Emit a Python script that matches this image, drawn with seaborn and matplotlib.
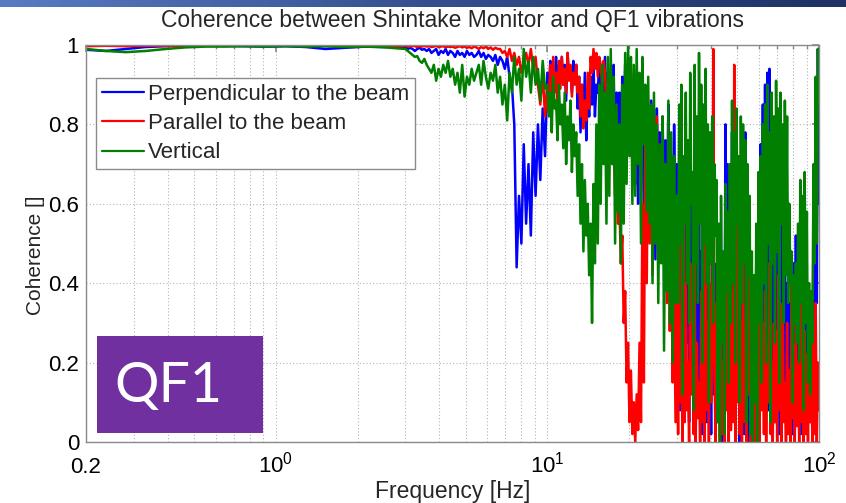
import numpy as np
import pandas as pd
import matplotlib
matplotlib.use("Agg")
import matplotlib.pyplot as plt
import seaborn as sns
from matplotlib.lines import Line2D
from matplotlib.patches import Rectangle
from matplotlib.colors import LinearSegmentedColormap
from matplotlib.ticker import FixedLocator, LogLocator, NullFormatter

# ---------------------------------------------------------------------------
# Data: coherence estimates on four analysis bands (log-spaced bins)
# ---------------------------------------------------------------------------
bands = [(0.2, 3.0, 16), (3.0, 10.0, 60), (10.0, 30.0, 90), (30.0, 100.0, 130)]

series_names = ["Perpendicular to the beam", "Parallel to the beam", "Vertical"]
series_colors = ["#0000ff", "#ff0000", "#007f00"]

# Perpendicular to the beam
perp_low = [0.988, 0.985, 0.99, 0.995, 0.997, 0.998, 0.998, 0.998, 0.997, 0.996,
            0.997, 0.995, 0.99, 0.993, 0.996, 0.995]
perp_mid = [0.995, 0.99, 0.993, 0.99, 0.985, 0.99, 0.993, 0.988, 0.99, 0.985,
            0.99, 0.98, 0.985, 0.99, 0.975, 0.985, 0.98, 0.99, 0.975, 0.985,
            0.98, 0.97, 0.985, 0.975, 0.98, 0.97, 0.985, 0.975, 0.98, 0.97,
            0.975, 0.985, 0.97, 0.98, 0.965, 0.975, 0.97, 0.96, 0.975, 0.95,
            0.97, 0.96, 0.94, 0.97, 0.92, 0.90, 0.80, 0.44, 0.62, 0.50,
            0.75, 0.55, 0.70, 0.52, 0.78, 0.62, 0.80, 0.66, 0.84, 0.72]
perp_high = [0.93, 0.88, 0.96, 0.85, 0.94, 0.90, 0.97, 0.87, 0.95, 0.91,
             0.97, 0.90, 0.95, 0.86, 0.98, 0.92, 0.94, 0.88, 0.96, 0.91,
             0.95, 0.84, 0.92, 0.78, 0.90, 0.80, 0.93, 0.76, 0.88, 0.82,
             0.92, 0.85, 0.95, 0.82, 0.90, 0.88, 0.96, 0.80, 0.93, 0.86,
             0.97, 0.84, 0.93, 0.75, 0.90, 0.80, 0.95, 0.70, 0.88, 0.78,
             0.88, 0.72, 0.92, 0.80, 0.95, 0.85, 0.90, 0.78, 0.93, 0.70,
             0.85, 0.65, 0.80, 0.60, 0.88, 0.70, 0.82, 0.58, 0.78, 0.66,
             0.80, 0.62, 0.86, 0.70, 0.75, 0.46, 0.84, 0.66, 0.78, 0.60,
             0.82, 0.58, 0.76, 0.50, 0.85, 0.62, 0.72, 0.45, 0.80, 0.55]
perp_top = [0.70, 0.20, 0.55, 0.08, 0.75, 0.30, 0.60, 0.12, 0.68, 0.25,
            0.50, 0.05, 0.72, 0.18, 0.62, 0.10, 0.58, 0.22, 0.45, 0.08,
            0.65, 0.15, 0.48, 0.02, 0.60, 0.20, 0.52, 0.05, 0.40, 0.10,
            0.35, 0.02, 0.55, 0.12, 0.45, 0.00, 0.38, 0.08, 0.30, 0.05,
            0.25, 0.00, 0.42, 0.05, 0.80, 0.15, 0.70, 0.02, 0.60, 0.10,
            0.78, 0.20, 0.65, 0.05, 0.80, 0.12, 0.55, 0.00, 0.62, 0.18,
            0.58, 0.02, 0.78, 0.15, 0.50, 0.00, 0.40, 0.05, 0.35, 0.02,
            0.30, 0.00, 0.45, 0.10, 0.60, 0.05, 0.75, 0.12, 0.85, 0.20,
            0.90, 0.15, 0.93, 0.08, 0.94, 0.25, 0.82, 0.10, 0.70, 0.05,
            0.75, 0.18, 0.65, 0.02, 0.70, 0.20, 0.55, 0.08, 0.50, 0.12,
            0.40, 0.05, 0.35, 0.15, 0.38, 0.02, 0.45, 0.10, 0.52, 0.08,
            0.48, 0.10, 0.55, 0.02, 0.42, 0.15, 0.50, 0.05, 0.38, 0.12,
            0.30, 0.05, 0.28, 0.10, 0.55, 0.20, 0.85, 0.35, 0.99, 0.60]

# Parallel to the beam
para_low = [0.997, 0.998, 0.997, 0.998, 0.998, 0.999, 0.998, 0.999, 0.998, 0.998,
            0.999, 0.998, 0.998, 0.997, 0.998, 0.996]
para_mid = [0.998, 0.997, 0.996, 0.998, 0.997, 0.995, 0.997, 0.996, 0.998, 0.996,
            0.997, 0.995, 0.996, 0.998, 0.995, 0.996, 0.997, 0.994, 0.996, 0.995,
            0.996, 0.993, 0.995, 0.997, 0.994, 0.996, 0.993, 0.995, 0.992, 0.996,
            0.994, 0.99, 0.995, 0.992, 0.996, 0.99, 0.994, 0.988, 0.993, 0.99,
            0.99, 0.98, 0.985, 0.97, 0.99, 0.96, 0.98, 0.95, 0.97, 0.93,
            0.96, 0.98, 0.95, 0.99, 0.94, 0.97, 0.90, 0.85, 0.93, 0.82]
para_high = [0.90, 0.83, 0.95, 0.86, 0.97, 0.88, 0.93, 0.85, 0.96, 0.89,
             0.97, 0.90, 0.94, 0.88, 0.98, 0.91, 0.95, 0.87, 0.93, 0.90,
             0.95, 0.88, 0.92, 0.82, 0.90, 0.79, 0.86, 0.81, 0.93, 0.84,
             0.97, 0.93, 0.99, 0.94, 0.98, 0.92, 0.97, 0.95, 0.90, 0.96,
             0.93, 0.85, 0.90, 0.78, 0.84, 0.70, 0.76, 0.62, 0.68, 0.55,
             0.60, 0.45, 0.52, 0.30, 0.38, 0.15, 0.25, 0.05, 0.18, 0.02,
             0.10, 0.00, 0.12, 0.03, 0.25, 0.05, 0.60, 0.15, 0.80, 0.40,
             0.85, 0.50, 0.78, 0.42, 0.70, 0.55, 0.82, 0.45, 0.65, 0.48,
             0.78, 0.45, 0.70, 0.35, 0.62, 0.28, 0.50, 0.15, 0.40, 0.05]
para_top = [0.35, 0.02, 0.55, 0.10, 0.28, 0.00, 0.65, 0.05, 0.40, 0.08,
            0.20, 0.00, 0.45, 0.12, 0.30, 0.02, 0.50, 0.00, 0.25, 0.06,
            0.15, 0.00, 0.38, 0.05, 0.22, 0.00, 0.60, 0.08, 0.30, 0.00,
            0.40, 0.10, 0.25, 0.99, 0.20, 0.00, 0.35, 0.05, 0.18, 0.00,
            0.30, 0.02, 0.20, 0.00, 0.42, 0.08, 0.15, 0.00, 0.35, 0.03,
            0.38, 0.05, 0.95, 0.00, 0.25, 0.10, 0.55, 0.02, 0.30, 0.00,
            0.60, 0.05, 0.28, 0.00, 0.45, 0.12, 0.20, 0.00, 0.35, 0.04,
            0.22, 0.00, 0.40, 0.06, 0.18, 0.00, 0.52, 0.08, 0.30, 0.02,
            0.38, 0.00, 0.25, 0.10, 0.45, 0.02, 0.20, 0.00, 0.30, 0.05,
            0.28, 0.00, 0.42, 0.08, 0.22, 0.00, 0.35, 0.05, 0.15, 0.00,
            0.30, 0.02, 0.18, 0.00, 0.40, 0.06, 0.25, 0.00, 0.32, 0.04,
            0.20, 0.00, 0.35, 0.05, 0.15, 0.00, 0.28, 0.02, 0.22, 0.00,
            0.30, 0.05, 0.18, 0.00, 0.25, 0.02, 0.35, 0.00, 0.20, 0.08]

# Vertical
vert_low = [0.99, 0.985, 0.982, 0.985, 0.99, 0.994, 0.996, 0.996, 0.997, 0.996,
            0.997, 0.996, 0.997, 0.995, 0.996, 0.994]
vert_mid = [0.99, 0.985, 0.98, 0.975, 0.97, 0.972, 0.96, 0.955, 0.965, 0.95,
            0.94, 0.93, 0.95, 0.91, 0.94, 0.92, 0.95, 0.93, 0.96, 0.92,
            0.94, 0.90, 0.93, 0.88, 0.95, 0.87, 0.92, 0.90, 0.94, 0.91,
            0.93, 0.95, 0.90, 0.96, 0.92, 0.89, 0.93, 0.91, 0.95, 0.88,
            0.92, 0.85, 0.90, 0.81, 0.93, 0.88, 0.97, 0.90, 0.94, 0.86,
            0.99, 0.92, 0.96, 0.88, 0.97, 0.90, 0.94, 0.86, 0.96, 0.89]
vert_high = [0.90, 0.82, 0.88, 0.78, 0.92, 0.84, 0.86, 0.76, 0.90, 0.80,
             0.85, 0.74, 0.88, 0.70, 0.82, 0.76, 0.86, 0.68, 0.80, 0.72,
             0.78, 0.62, 0.75, 0.55, 0.70, 0.48, 0.66, 0.52, 0.60, 0.42,
             0.55, 0.30, 0.65, 0.45, 0.80, 0.50, 0.90, 0.60, 0.95, 0.70,
             0.88, 0.55, 0.97, 0.62, 0.99, 0.70, 0.92, 0.50, 0.85, 0.58,
             0.80, 0.45, 0.90, 0.55, 0.98, 0.65, 1.00, 0.72, 0.97, 0.60,
             0.95, 0.62, 0.99, 0.70, 0.93, 0.50, 0.97, 0.75, 0.90, 0.58,
             0.92, 0.55, 0.85, 0.40, 0.88, 0.50, 0.80, 0.35, 0.75, 0.45,
             0.82, 0.23, 0.70, 0.38, 0.86, 0.30, 0.78, 0.20, 0.72, 0.35]
vert_top = [0.62, 0.35, 0.85, 0.50, 0.90, 0.12, 0.72, 0.55, 0.88, 0.40,
            0.76, 0.30, 0.93, 0.60, 0.68, 0.08, 0.95, 0.45, 0.82, 0.35,
            0.98, 0.55, 0.90, 0.20, 0.85, 0.50, 0.94, 0.40, 0.80, 0.10,
            0.78, 0.45, 0.82, 0.30, 0.70, 0.52, 0.66, 0.05, 0.55, 0.00,
            0.62, 0.25, 0.48, 0.02, 0.65, 0.38, 0.58, 0.15, 0.70, 0.30,
            0.86, 0.40, 0.78, 0.20, 0.84, 0.55, 0.72, 0.10, 0.82, 0.35,
            0.80, 0.45, 0.76, 0.05, 0.70, 0.42, 0.62, 0.02, 0.48, 0.00,
            0.42, 0.10, 0.55, 0.00, 0.68, 0.30, 0.72, 0.15, 0.80, 0.40,
            0.85, 0.20, 0.90, 0.50, 0.78, 0.05, 0.88, 0.45, 0.82, 0.25,
            0.91, 0.48, 0.84, 0.15, 0.88, 0.55, 0.80, 0.30, 0.86, 0.42,
            0.82, 0.35, 0.60, 0.40, 0.48, 0.10, 0.42, 0.30, 0.45, 0.25,
            0.55, 0.20, 0.66, 0.35, 0.62, 0.08, 0.68, 0.30, 0.58, 0.15,
            0.40, 0.12, 0.38, 0.25, 0.70, 0.45, 0.92, 0.50, 0.99, 0.85]

x_tick_values = [0.2, 1, 10, 100]
x_tick_labels = ["0.2", "$10^{0}$", "$10^{1}$", "$10^{2}$"]
y_tick_values = [0, 0.2, 0.4, 0.6, 0.8, 1]
y_tick_labels = ["0", "0.2", "0.4", "0.6", "0.8", "1"]

# ---------------------------------------------------------------------------
# Assemble long-form table
# ---------------------------------------------------------------------------
freq = np.concatenate([
    np.geomspace(lo, hi, n, endpoint=(k == len(bands) - 1))
    for k, (lo, hi, n) in enumerate(bands)
])
values = {
    series_names[0]: perp_low + perp_mid + perp_high + perp_top,
    series_names[1]: para_low + para_mid + para_high + para_top,
    series_names[2]: vert_low + vert_mid + vert_high + vert_top,
}
df = pd.concat(
    [pd.DataFrame({"freq": freq, "coh": v, "series": name}) for name, v in values.items()],
    ignore_index=True,
)

# ---------------------------------------------------------------------------
# Figure
# ---------------------------------------------------------------------------
sns.set_theme(style="white")
plt.rcParams["font.family"] = ["Liberation Sans", "DejaVu Sans"]
plt.rcParams["mathtext.default"] = "regular"

W, H = 846, 503
fig = plt.figure(figsize=(W / 100, H / 100), dpi=100)
fig.patch.set_facecolor("white")

ax = fig.add_axes([86 / W, 1 - 442 / H, (819 - 86) / W, (442 - 45) / H])

sns.lineplot(
    data=df, x="freq", y="coh", hue="series", hue_order=series_names,
    palette=dict(zip(series_names, series_colors)), estimator=None,
    sort=False, linewidth=1.8, legend=False, ax=ax,
)

ax.set_xscale("log")
ax.set_xlim(0.2, 100)
ax.set_ylim(0, 1)
ax.xaxis.set_major_locator(FixedLocator(x_tick_values))
ax.set_xticklabels(x_tick_labels)
ax.xaxis.set_minor_locator(LogLocator(base=10, subs=np.arange(2, 10)))
ax.xaxis.set_minor_formatter(NullFormatter())
ax.set_yticks(y_tick_values)
ax.set_yticklabels(y_tick_labels)

grid_kw = dict(color="#b4b4b4", linestyle=(0, (1, 2)), linewidth=0.8)
ax.grid(True, which="major", axis="both", **grid_kw)
ax.grid(True, which="minor", axis="x", **grid_kw)
ax.set_axisbelow(True)

for s in ax.spines.values():
    s.set_color("#8a8a8a")
    s.set_linewidth(1.0)

ax.tick_params(which="both", direction="in", top=True, right=True,
               color="#8a8a8a", labelcolor="black", labelsize=16)
ax.tick_params(which="major", length=5)
ax.tick_params(which="minor", length=3)
ax.tick_params(axis="y", pad=5)
ax.tick_params(axis="x", pad=22)
for lab in ax.get_xticklabels():
    lab.set_verticalalignment("baseline")

ax.set_xlabel("Frequency [Hz]", fontsize=16.5)
ax.set_ylabel("Coherence []", fontsize=15)
ax.xaxis.set_label_coords(0.5, -0.095)
ax.yaxis.set_label_coords(-0.056, 0.471)

handles = [Line2D([], [], color=c, lw=1.6) for c in series_colors]
leg = ax.legend(handles, series_names, loc="upper left",
                bbox_to_anchor=(0.0136, 0.917), borderaxespad=0,
                fontsize=16, frameon=True, fancybox=False, framealpha=1,
                edgecolor="#8a8a8a", handlelength=1.9, handletextpad=0.2,
                labelspacing=0.38, borderpad=0.25)
leg.get_frame().set_linewidth(1.0)

fig.text(452 / W, 1 - 21 / H, "Coherence between Shintake Monitor and QF1 vibrations",
         ha="center", va="center", fontsize=16.5)

# slide header band
band_ax = fig.add_axes([0, 1 - 7 / H, 1, 7 / H])
grad = np.linspace(0, 1, 256)[None, :]
band_cmap = LinearSegmentedColormap.from_list("hdr", ["#5a7bc2", "#34508f", "#1e3263"])
band_ax.imshow(grad, aspect="auto", cmap=band_cmap, extent=(0, 1, 0, 1))
band_ax.set_axis_off()

# QF1 tag
fig.patches.append(Rectangle((97 / W, 1 - 433 / H), 166 / W, 97 / H,
                             transform=fig.transFigure, facecolor="#7030a0",
                             edgecolor="none", zorder=10))
fig.text(168 / W, 1 - 386 / H, "QF1", color="white", fontsize=40,
         family=["Lato", "DejaVu Sans"], ha="center", va="center", zorder=11)

fig.savefig("out.png", dpi=100)
